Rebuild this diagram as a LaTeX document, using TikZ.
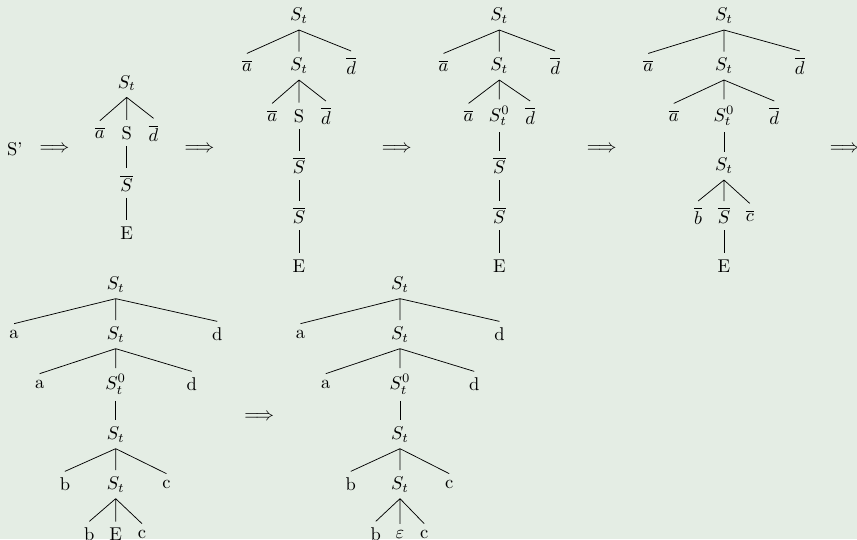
\documentclass[tikz,border=0pt]{standalone}
\usepackage{amsmath}
\usepackage{xcolor}
\usepackage{tikz}
\usetikzlibrary{positioning}
\definecolor{bg}{HTML}{E4EDE4}

\begin{document}
\begin{tikzpicture}[
    node distance=0.95cm, on grid,
    sym/.style={inner sep=0.333em, text=black},
    branch/.style={draw=black, line width=0.4pt},
]
\fill[bg] (0,0) rectangle (16.283,-10.241);
\useasboundingbox (0,0) rectangle (16.283,-10.241);

% start symbol and derivation arrows
\node[sym] (s0) at (0.283,-2.83) {S'};
\node[sym] (y1) at (1.035,-2.83) {$\Longrightarrow$};
\node[sym] (y2) at (3.790,-2.83) {$\Longrightarrow$};
\node[sym] (y3) at (7.537,-2.83) {$\Longrightarrow$};
\node[sym] (y4) at (11.432,-2.83) {$\Longrightarrow$};
\node[sym] (y5) at (16.050,-2.83) {$\Longrightarrow$};
\node[sym] (y6) at (4.925,-7.917) {$\Longrightarrow$};

% tree A
\node[sym] (A0) at (2.407,-1.579) {$S_t$};
\node[sym,below left=0.95cm and 0.51cm of A0] (A1l) {$\overline{a}$};
\node[sym,below=of A0] (A1m) {S};
\node[sym,below right=0.95cm and 0.51cm of A0] (A1r) {$\overline{d}$};
\node[sym,below=of A1m] (A2m) {$\overline{S}$};
\node[sym,below=of A2m] (A3m) {E};
\draw[branch] (A0.south) -- (A1l.north) (A0.south) -- (A1m.north) (A0.south) -- (A1r.north);
\draw[branch] (A1m.south) -- (A2m.north);
\draw[branch] (A2m.south) -- (A3m.north);

% tree B
\node[sym] (B0) at (5.681,-0.300) {$S_t$};
\node[sym,below left=0.95cm and 0.99cm of B0] (B1l) {$\overline{a}$};
\node[sym,below=of B0] (B1m) {$S_t$};
\node[sym,below right=0.95cm and 0.99cm of B0] (B1r) {$\overline{d}$};
\node[sym,below left=0.95cm and 0.51cm of B1m] (B2l) {$\overline{a}$};
\node[sym,below=of B1m] (B2m) {S};
\node[sym,below right=0.95cm and 0.51cm of B1m] (B2r) {$\overline{d}$};
\node[sym,below=of B2m] (B3m) {$\overline{S}$};
\node[sym,below=of B3m] (B4m) {$\overline{S}$};
\node[sym,below=of B4m] (B5m) {E};
\draw[branch] (B0.south) -- (B1l.north) (B0.south) -- (B1m.north) (B0.south) -- (B1r.north);
\draw[branch] (B1m.south) -- (B2l.north) (B1m.south) -- (B2m.north) (B1m.south) -- (B2r.north);
\draw[branch] (B2m.south) -- (B3m.north);
\draw[branch] (B3m.south) -- (B4m.north);
\draw[branch] (B4m.south) -- (B5m.north);

% tree C
\node[sym] (C0) at (9.487,-0.300) {$S_t$};
\node[sym,below left=0.95cm and 1.06cm of C0] (C1l) {$\overline{a}$};
\node[sym,below=of C0] (C1m) {$S_t$};
\node[sym,below right=0.95cm and 1.06cm of C0] (C1r) {$\overline{d}$};
\node[sym,below left=0.95cm and 0.585cm of C1m] (C2l) {$\overline{a}$};
\node[sym,below=of C1m] (C2m) {$S_t^0$};
\node[sym,below right=0.95cm and 0.585cm of C1m] (C2r) {$\overline{d}$};
\node[sym,below=of C2m] (C3m) {$\overline{S}$};
\node[sym,below=of C3m] (C4m) {$\overline{S}$};
\node[sym,below=of C4m] (C5m) {E};
\draw[branch] (C0.south) -- (C1l.north) (C0.south) -- (C1m.north) (C0.south) -- (C1r.north);
\draw[branch] (C1m.south) -- (C2l.north) (C1m.south) -- (C2m.north) (C1m.south) -- (C2r.north);
\draw[branch] (C2m.south) -- (C3m.north);
\draw[branch] (C3m.south) -- (C4m.north);
\draw[branch] (C4m.south) -- (C5m.north);

% tree D
\node[sym] (D0) at (13.756,-0.300) {$S_t$};
\node[sym,below left=0.95cm and 1.44cm of D0] (D1l) {$\overline{a}$};
\node[sym,below=of D0] (D1m) {$S_t$};
\node[sym,below right=0.95cm and 1.44cm of D0] (D1r) {$\overline{d}$};
\node[sym,below left=0.95cm and 0.955cm of D1m] (D2l) {$\overline{a}$};
\node[sym,below=of D1m] (D2m) {$S_t^0$};
\node[sym,below right=0.95cm and 0.955cm of D1m] (D2r) {$\overline{d}$};
\node[sym,below=of D2m] (D3m) {$S_t$};
\node[sym,below left=0.95cm and 0.49cm of D3m] (D4l) {$\overline{b}$};
\node[sym,below=of D3m] (D4m) {$\overline{S}$};
\node[sym,below right=0.95cm and 0.49cm of D3m] (D4r) {$\overline{c}$};
\node[sym,below=of D4m] (D5m) {E};
\draw[branch] (D0.south) -- (D1l.north) (D0.south) -- (D1m.north) (D0.south) -- (D1r.north);
\draw[branch] (D1m.south) -- (D2l.north) (D1m.south) -- (D2m.north) (D1m.south) -- (D2r.north);
\draw[branch] (D2m.south) -- (D3m.north);
\draw[branch] (D3m.south) -- (D4l.north) (D3m.south) -- (D4m.north) (D3m.south) -- (D4r.north);
\draw[branch] (D4m.south) -- (D5m.north);

% tree E
\node[sym] (E0) at (2.198,-5.404) {$S_t$};
\node[sym,below left=0.95cm and 1.93cm of E0] (E1l) {a};
\node[sym,below=of E0] (E1m) {$S_t$};
\node[sym,below right=0.95cm and 1.93cm of E0] (E1r) {d};
\node[sym,below left=0.95cm and 1.445cm of E1m] (E2l) {a};
\node[sym,below=of E1m] (E2m) {$S_t^0$};
\node[sym,below right=0.95cm and 1.445cm of E1m] (E2r) {d};
\node[sym,below=of E2m] (E3m) {$S_t$};
\node[sym,below left=0.95cm and 0.965cm of E3m] (E4l) {b};
\node[sym,below=of E3m] (E4m) {$S_t$};
\node[sym,below right=0.95cm and 0.965cm of E3m] (E4r) {c};
\node[sym,below left=0.95cm and 0.5cm of E4m] (E5l) {b};
\node[sym,below=of E4m] (E5m) {E};
\node[sym,below right=0.95cm and 0.5cm of E4m] (E5r) {c};
\draw[branch] (E0.south) -- (E1l.north) (E0.south) -- (E1m.north) (E0.south) -- (E1r.north);
\draw[branch] (E1m.south) -- (E2l.north) (E1m.south) -- (E2m.north) (E1m.south) -- (E2r.north);
\draw[branch] (E2m.south) -- (E3m.north);
\draw[branch] (E3m.south) -- (E4l.north) (E3m.south) -- (E4m.north) (E3m.south) -- (E4r.north);
\draw[branch] (E4m.south) -- (E5l.north) (E4m.south) -- (E5m.north) (E4m.south) -- (E5r.north);

% tree F
\node[sym] (F0) at (7.600,-5.404) {$S_t$};
\node[sym,below left=0.95cm and 1.89cm of F0] (F1l) {a};
\node[sym,below=of F0] (F1m) {$S_t$};
\node[sym,below right=0.95cm and 1.89cm of F0] (F1r) {d};
\node[sym,below left=0.95cm and 1.41cm of F1m] (F2l) {a};
\node[sym,below=of F1m] (F2m) {$S_t^0$};
\node[sym,below right=0.95cm and 1.41cm of F1m] (F2r) {d};
\node[sym,below=of F2m] (F3m) {$S_t$};
\node[sym,below left=0.95cm and 0.935cm of F3m] (F4l) {b};
\node[sym,below=of F3m] (F4m) {$S_t$};
\node[sym,below right=0.95cm and 0.935cm of F3m] (F4r) {c};
\node[sym,below left=0.95cm and 0.46cm of F4m] (F5l) {b};
\node[sym,below=of F4m] (F5m) {$\varepsilon$};
\node[sym,below right=0.95cm and 0.46cm of F4m] (F5r) {c};
\draw[branch] (F0.south) -- (F1l.north) (F0.south) -- (F1m.north) (F0.south) -- (F1r.north);
\draw[branch] (F1m.south) -- (F2l.north) (F1m.south) -- (F2m.north) (F1m.south) -- (F2r.north);
\draw[branch] (F2m.south) -- (F3m.north);
\draw[branch] (F3m.south) -- (F4l.north) (F3m.south) -- (F4m.north) (F3m.south) -- (F4r.north);
\draw[branch] (F4m.south) -- (F5l.north) (F4m.south) -- (F5m.north) (F4m.south) -- (F5r.north);
\end{tikzpicture}
\end{document}
